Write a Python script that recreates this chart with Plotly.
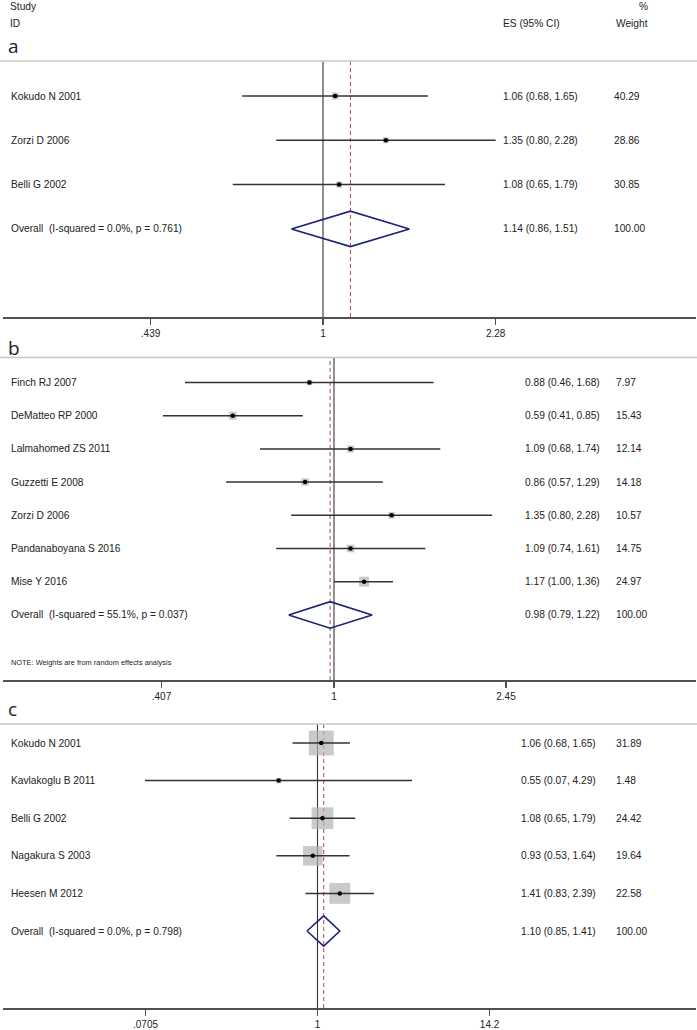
import math
import plotly.graph_objects as go

# ---------------- data ----------------
studies_a = ["Kokudo N 2001", "Zorzi D 2006", "Belli G 2002"]
es_a = [1.06, 1.35, 1.08]
lo_a = [0.68, 0.80, 0.65]
hi_a = [1.65, 2.28, 1.79]
wt_a = [40.29, 28.86, 30.85]
overall_a = dict(label="Overall\u00a0 (I-squared = 0.0%, p = 0.761)", es=1.14, lo=0.86, hi=1.51, wt=100.00)
ticks_a = [0.439, 1, 2.28]
ticklabels_a = [".439", "1", "2.28"]

studies_b = ["Finch RJ 2007", "DeMatteo RP 2000", "Lalmahomed ZS 2011", "Guzzetti E 2008",
             "Zorzi D 2006", "Pandanaboyana S 2016", "Mise Y 2016"]
es_b = [0.88, 0.59, 1.09, 0.86, 1.35, 1.09, 1.17]
lo_b = [0.46, 0.41, 0.68, 0.57, 0.80, 0.74, 1.00]
hi_b = [1.68, 0.85, 1.74, 1.29, 2.28, 1.61, 1.36]
wt_b = [7.97, 15.43, 12.14, 14.18, 10.57, 14.75, 24.97]
overall_b = dict(label="Overall\u00a0 (I-squared = 55.1%, p = 0.037)", es=0.98, lo=0.79, hi=1.22, wt=100.00)
ticks_b = [0.407, 1, 2.45]
ticklabels_b = [".407", "1", "2.45"]
note_b = "NOTE: Weights are from random effects analysis"

studies_c = ["Kokudo N 2001", "Kavlakoglu B 2011", "Belli G 2002", "Nagakura S 2003", "Heesen M 2012"]
es_c = [1.06, 0.55, 1.08, 0.93, 1.41]
lo_c = [0.68, 0.07, 0.65, 0.53, 0.83]
hi_c = [1.65, 4.29, 1.79, 1.64, 2.39]
wt_c = [31.89, 1.48, 24.42, 19.64, 22.58]
overall_c = dict(label="Overall\u00a0 (I-squared = 0.0%, p = 0.798)", es=1.10, lo=0.85, hi=1.41, wt=100.00)
ticks_c = [0.0705, 1, 14.2]
ticklabels_c = [".0705", "1", "14.2"]

NULL_VALUE = 1.0
panel_letters = ["a", "b", "c"]

# ---------------- layout geometry (pixels) ----------------
W, H = 697, 1030
AX_LEFT, AX_RIGHT = 3, 696
geom = [
    dict(one=323.0, per_ln=209.5, row0=96.0, step=44.3, top=61.0, bottom=317.0,
         letter_y=46, es_x=501, wt_x=612, box_k=1.1, note_y=None),
    dict(one=334.0, per_ln=191.9, row0=382.5, step=33.2, top=357.5, bottom=680.0,
         letter_y=348, es_x=523, wt_x=614, box_k=2.0, note_y=662),
    dict(one=317.5, per_ln=64.85, row0=743.0, step=37.6, top=724.0, bottom=1008.0,
         letter_y=709, es_x=519, wt_x=614, box_k=4.4, note_y=None),
]

panels = [
    (studies_a, es_a, lo_a, hi_a, wt_a, overall_a, ticks_a, ticklabels_a),
    (studies_b, es_b, lo_b, hi_b, wt_b, overall_b, ticks_b, ticklabels_b),
    (studies_c, es_c, lo_c, hi_c, wt_c, overall_c, ticks_c, ticklabels_c),
]

FONT = "Liberation Sans, Arial, sans-serif"
TXT = "#222222"
LINE = "#333333"
BOX = "#b4b4b4"
DIAM = "#1c2378"
DASH = "#b45a5a"
SEP = "#c8c8c8"
AXC = "#505050"
FS = 10.2

fig = go.Figure()
shapes = []
annotations = []
layout_axes = {}

def py(p):
    return 1 - p / H

for i, (names, es, lo, hi, wt, ov, tv, tt) in enumerate(panels):
    g = geom[i]
    n = "" if i == 0 else str(i + 1)
    xa, ya = "x" + n, "y" + n

    per_log10 = g["per_ln"] * math.log(10)
    xr = [(AX_LEFT - g["one"]) / per_log10, (AX_RIGHT - g["one"]) / per_log10]
    ytop = (g["top"] - g["row0"]) / g["step"]
    ybot = (g["bottom"] - g["row0"]) / g["step"]

    layout_axes["xaxis" + n] = dict(
        type="log", range=xr, domain=[AX_LEFT / W, AX_RIGHT / W], anchor=ya,
        tickvals=tv, ticktext=tt, ticks="outside", ticklen=6, tickwidth=1.2,
        tickcolor=AXC, showline=True, linecolor=AXC, linewidth=1.6,
        showgrid=False, zeroline=False, fixedrange=True,
        tickfont=dict(family=FONT, size=10, color=TXT))
    layout_axes["yaxis" + n] = dict(
        range=[ybot, ytop], domain=[py(g["bottom"]), py(g["top"])], anchor=xa,
        visible=False, showgrid=False, zeroline=False, fixedrange=True)

    rows = list(range(len(names)))
    orow = len(names)

    # weight boxes
    fig.add_trace(go.Scatter(
        x=es, y=rows, mode="markers", xaxis=xa, yaxis=ya, hoverinfo="skip",
        marker=dict(symbol="square", color=BOX, line=dict(width=0),
                    size=[g["box_k"] * math.sqrt(w) for w in wt])))
    # CI lines
    cx, cy = [], []
    for r, l, h in zip(rows, lo, hi):
        cx += [l, h, None]
        cy += [r, r, None]
    fig.add_trace(go.Scatter(x=cx, y=cy, mode="lines", xaxis=xa, yaxis=ya,
                             line=dict(color=LINE, width=1.5), hoverinfo="skip"))
    # point estimates
    fig.add_trace(go.Scatter(x=es, y=rows, mode="markers", xaxis=xa, yaxis=ya,
                             marker=dict(symbol="circle", color="black", size=4.5),
                             hoverinfo="skip"))
    # overall diamond
    hd = 0.4
    fig.add_trace(go.Scatter(
        x=[ov["lo"], ov["es"], ov["hi"], ov["es"], ov["lo"]],
        y=[orow, orow - hd, orow, orow + hd, orow],
        mode="lines", xaxis=xa, yaxis=ya, hoverinfo="skip",
        line=dict(color=DIAM, width=1.6)))

    # null line and overall dashed line
    shapes.append(dict(type="line", xref=xa, yref=ya + " domain", x0=NULL_VALUE, x1=NULL_VALUE,
                       y0=0, y1=1, line=dict(color=LINE, width=1.1), layer="below"))
    shapes.append(dict(type="line", xref=xa, yref=ya + " domain", x0=ov["es"], x1=ov["es"],
                       y0=0, y1=1, line=dict(color=DASH, width=1.1, dash="4px,3px"), layer="below"))
    # separator line
    shapes.append(dict(type="line", xref="paper", yref=ya + " domain", x0=0, x1=1,
                       y0=1, y1=1, line=dict(color=SEP, width=1.5)))

    # text columns
    labels = names + [ov["label"]]
    es_all = es + [ov["es"]]
    lo_all = lo + [ov["lo"]]
    hi_all = hi + [ov["hi"]]
    wt_all = wt + [ov["wt"]]
    for r, (lab, e, l, h, w) in enumerate(zip(labels, es_all, lo_all, hi_all, wt_all)):
        annotations.append(dict(x=9 / W, xref="paper", y=r, yref=ya, text=lab,
                                xanchor="left", yanchor="middle", showarrow=False,
                                font=dict(family=FONT, size=FS, color=TXT)))
        annotations.append(dict(x=g["es_x"] / W, xref="paper", y=r, yref=ya,
                                text=f"{e:.2f} ({l:.2f}, {h:.2f})",
                                xanchor="left", yanchor="middle", showarrow=False,
                                font=dict(family=FONT, size=FS, color=TXT)))
        annotations.append(dict(x=g["wt_x"] / W, xref="paper", y=r, yref=ya,
                                text=f"{w:.2f}",
                                xanchor="left", yanchor="middle", showarrow=False,
                                font=dict(family=FONT, size=FS, color=TXT)))
    if g["note_y"] is not None:
        annotations.append(dict(x=9 / W, xref="paper", y=py(g["note_y"]), yref="paper",
                                text=note_b, xanchor="left", yanchor="middle", showarrow=False,
                                font=dict(family=FONT, size=7.4, color=TXT)))
    # panel letter
    annotations.append(dict(x=6 / W, xref="paper", y=py(g["letter_y"]), yref="paper",
                            text=panel_letters[i], xanchor="left", yanchor="middle",
                            showarrow=False,
                            font=dict(family="Open Sans, Noto Sans, sans-serif", size=19, color=TXT)))

# header
for txt, xp, yp in [("Study", 8, 7), ("ID", 8, 23), ("ES (95% CI)", 501, 23),
                    ("%", 637, 7), ("Weight", 614, 23)]:
    annotations.append(dict(x=xp / W, xref="paper", y=py(yp), yref="paper", text=txt,
                            xanchor="left", yanchor="middle", showarrow=False,
                            font=dict(family=FONT, size=FS, color=TXT)))

fig.update_layout(
    width=W, height=H, margin=dict(l=0, r=0, t=0, b=0),
    paper_bgcolor="white", plot_bgcolor="white", showlegend=False,
    shapes=shapes, annotations=annotations, **layout_axes)

fig.write_html("out.html", config={"displayModeBar": False, "staticPlot": True},
               post_script="document.body.style.margin='0px';document.body.style.overflow='hidden';")
